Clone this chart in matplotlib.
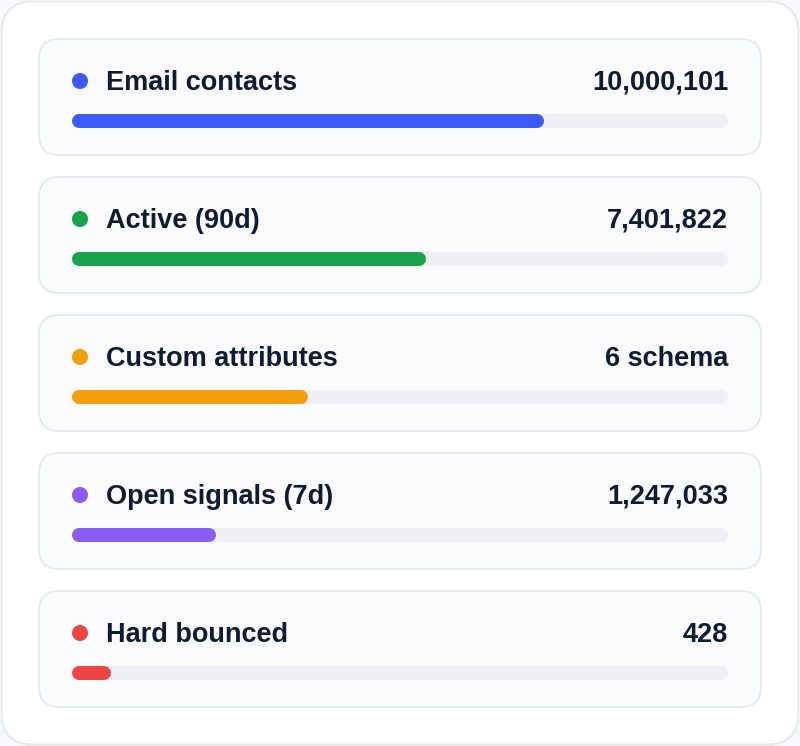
import matplotlib.pyplot as plt
from matplotlib.patches import FancyBboxPatch, Circle

# data
labels = ['Email contacts', 'Active (90d)', 'Custom attributes', 'Open signals (7d)', 'Hard bounced']
values = ['10,000,101', '7,401,822', '6 schema', '1,247,033', '428']
fill_pct = [72, 54, 36, 22, 6]
colors = ['#3d5afe', '#16a34a', '#f59e0b', '#8b5cf6', '#ef4444']

W, H = 800, 746
DPI = 100
text_color = '#111a33'
track_color = '#eef0f5'
card_fill = '#fafbfd'
card_edge = '#e3e6ee'

plt.rcParams['font.family'] = ['Liberation Sans', 'DejaVu Sans']

fig = plt.figure(figsize=(W / DPI, H / DPI), dpi=DPI)
fig.patch.set_facecolor('#f7f8fa')
ax = fig.add_axes([0, 0, 1, 1])
ax.set_xlim(0, W)
ax.set_ylim(H, 0)
ax.axis('off')

# outer card
ax.add_patch(FancyBboxPatch((1.5, 1.5), W - 3, H - 3,
                            boxstyle='round,pad=0,rounding_size=32',
                            fc='white', ec='#e3e6ee', lw=1.2))

card_x, card_w, card_h = 39, 722, 116
top0, step = 39, 138
bar_x0, bar_w, bar_h = 72, 656, 14

for i, (lab, val, pct, col) in enumerate(zip(labels, values, fill_pct, colors)):
    top = top0 + i * step
    ax.add_patch(FancyBboxPatch((card_x, top), card_w, card_h,
                                boxstyle='round,pad=0,rounding_size=20',
                                fc=card_fill, ec=card_edge, lw=1.2))
    ax.add_patch(Circle((80, top + 42), 8, fc=col, ec='none'))
    ax.text(106, top + 51, lab, fontsize=19.5, fontweight='bold',
            color=text_color, va='baseline', ha='left')
    ax.text(728, top + 51, val, fontsize=19.5, fontweight='bold',
            color=text_color, va='baseline', ha='right')

    # progress bar in its own axes, 0..100 scale
    bar_cy = top + 82
    bax = fig.add_axes([bar_x0 / W, 1 - (bar_cy + bar_h / 2) / H, bar_w / W, bar_h / H])
    bax.set_xlim(0, 100)
    bax.set_ylim(-1, 1)
    bax.axis('off')
    cap = (bar_h / 2) / bar_w * 100
    lw = bar_h * 72 / DPI
    bax.plot([cap, 100 - cap], [0, 0], color=track_color, lw=lw,
             solid_capstyle='round', clip_on=False)
    bax.plot([cap, pct - cap], [0, 0], color=col, lw=lw,
             solid_capstyle='round', clip_on=False)

fig.savefig('out.png', dpi=DPI, facecolor=fig.get_facecolor())
